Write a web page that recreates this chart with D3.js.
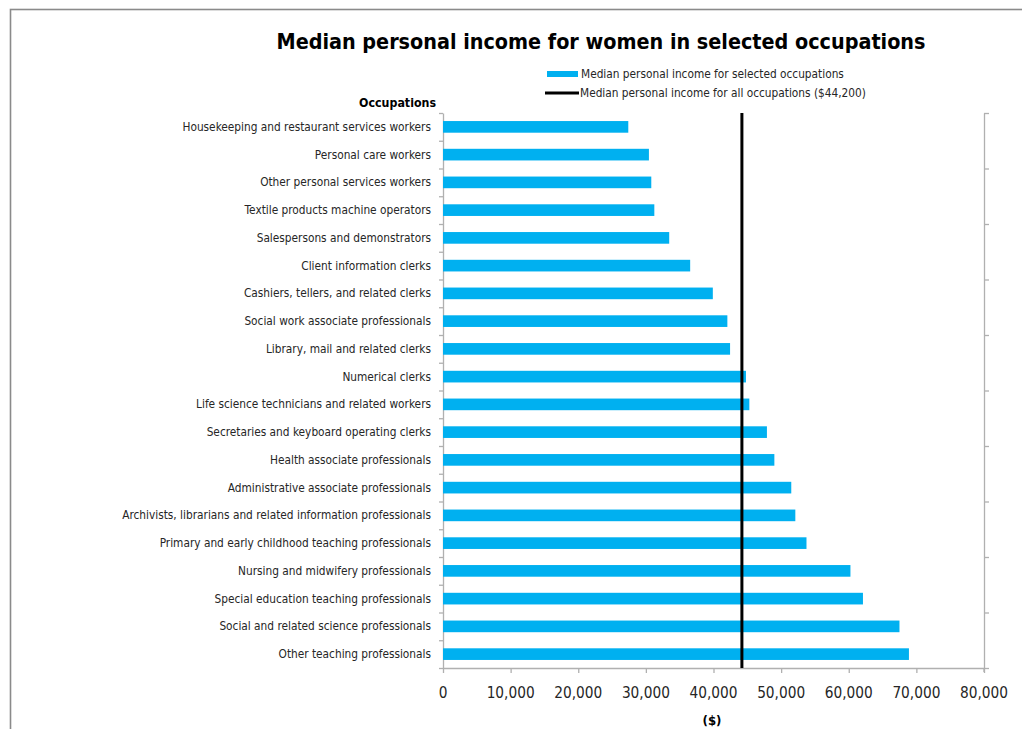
<!DOCTYPE html>
<html><head><meta charset="utf-8">
<script src="https://cdn.jsdelivr.net/npm/d3@7"></script>
<style>
html,body{margin:0;padding:0;background:#fff;}
svg{display:block;}
</style>
</head><body>
<svg id="chart" width="1022" height="729"></svg>
<script>
const categories = [
  "Housekeeping and restaurant services workers",
  "Personal care workers",
  "Other personal services workers",
  "Textile products machine operators ",
  "Salespersons and demonstrators",
  "Client information clerks",
  "Cashiers, tellers, and related clerks ",
  "Social work associate professionals",
  "Library, mail and related clerks",
  "Numerical clerks",
  "Life science technicians and related workers ",
  "Secretaries and keyboard operating clerks",
  "Health associate professionals",
  "Administrative associate professionals ",
  "Archivists, librarians and related information professionals",
  "Primary and early childhood teaching professionals",
  "Nursing and midwifery professionals",
  "Special education teaching professionals",
  "Social and related science professionals",
  "Other teaching professionals"
];
const incomes = [27400, 30450, 30800, 31250, 33450, 36550, 39900, 42050, 42450, 44800,
                 45300, 47900, 49000, 51500, 52100, 53750, 60250, 62100, 67500, 68900];
const allOccupationsMedian = 44200;
const xTicks = [0, 10000, 20000, 30000, 40000, 50000, 60000, 70000, 80000];
const titleText = "Median personal income for women in selected occupations";
const legendLabels = ["Median personal income for selected occupations",
                      "Median personal income for all occupations ($44,200)"];
const yAxisTitle = "Occupations";
const xAxisTitle = "($)";

const svg = d3.select("#chart");
const FONT = "'Liberation Sans Narrow','DejaVu Sans Condensed','Liberation Sans',sans-serif";
const BLUE = "#00B0F0";
const AXIS = "#B0B0B0";

const L = 443, R = 984, T = 113, B = 668;

// outer border
svg.append("rect").attr("x", 10.5).attr("y", 9.5).attr("width", 1030).attr("height", 740)
  .attr("fill", "none").attr("stroke", "#8a8a8a").attr("stroke-width", 1.6);

const x = d3.scaleLinear().domain([0, 80000]).range([L, R]);
const y = d3.scaleBand().domain(categories).range([T, B]).paddingInner(0.58).paddingOuter(0.29);
const yIdx = d3.scaleLinear().domain([0, categories.length]).range([T, B]);
const ySec = d3.scaleLinear().domain([0, 10]).range([B, T]);

function fit(sel, target) {
  const node = sel.node();
  const fs = parseFloat(sel.attr("font-size"));
  const w = node.getComputedTextLength();
  sel.attr("font-size", (fs * target / w).toFixed(2));
}

// left axis (category boundaries)
const gl = svg.append("g").attr("transform", `translate(${L},0)`)
  .call(d3.axisLeft(yIdx).ticks(20).tickValues(d3.range(0, 21)).tickFormat("").tickSize(4).tickSizeOuter(0));
gl.selectAll("path,line").attr("stroke", AXIS).attr("stroke-width", 1.3);

// right secondary axis
const gr = svg.append("g").attr("transform", `translate(${R},0)`)
  .call(d3.axisRight(ySec).tickValues(d3.range(0, 11)).tickFormat("").tickSize(5).tickSizeOuter(0));
gr.selectAll("path,line").attr("stroke", AXIS).attr("stroke-width", 1.3);
svg.append("line").attr("x1", R).attr("x2", R).attr("y1", B).attr("y2", B + 4)
  .attr("stroke", AXIS).attr("stroke-width", 1.3);

// bars
svg.append("g").selectAll("rect").data(categories).join("rect")
  .attr("x", x(0))
  .attr("y", d => y(d))
  .attr("width", (d, i) => x(incomes[i]) - x(0))
  .attr("height", y.bandwidth())
  .attr("fill", BLUE);

// x axis
const gx = svg.append("g").attr("transform", `translate(0,${B})`)
  .call(d3.axisBottom(x).tickValues(xTicks).tickFormat("").tickSize(5).tickSizeOuter(0));
gx.selectAll("path,line").attr("stroke", AXIS).attr("stroke-width", 1.3);

// median line
svg.append("line")
  .attr("x1", x(allOccupationsMedian)).attr("x2", x(allOccupationsMedian))
  .attr("y1", T).attr("y2", B)
  .attr("stroke", "#000").attr("stroke-width", 3);

// x tick labels
const fmt = d3.format(",");
const xl = svg.append("g").selectAll("text").data(xTicks).join("text")
  .attr("x", d => x(d)).attr("y", 698)
  .attr("text-anchor", "middle")
  .attr("font-family", FONT).attr("font-size", 14).attr("fill", "#262626")
  .text(d => fmt(d));
{
  const last = xl.filter(d => d === 80000);
  const w = last.node().getComputedTextLength();
  xl.attr("font-size", (14 * 48 / w).toFixed(2));
}

// category labels
const cl = svg.append("g").selectAll("text").data(categories).join("text")
  .attr("x", 431).attr("y", d => y(d) + y.bandwidth() / 2)
  .attr("dy", "0.35em")
  .attr("text-anchor", "end")
  .attr("font-family", FONT).attr("font-size", 13).attr("fill", "#262626")
  .text(d => d.trim());
{
  const ref = cl.filter((d, i) => i === 14);
  const w = ref.node().getComputedTextLength();
  cl.attr("font-size", (13 * 309 / w).toFixed(2));
}

// title
const tt = svg.append("text").attr("x", 601).attr("y", 49).attr("text-anchor", "middle")
  .attr("font-family", FONT).attr("font-weight", "bold").attr("font-size", 26).attr("fill", "#000")
  .text(titleText);
fit(tt, 649);

// legend
svg.append("rect").attr("x", 547).attr("y", 71).attr("width", 31).attr("height", 6).attr("fill", BLUE);
svg.append("line").attr("x1", 545).attr("x2", 579).attr("y1", 93).attr("y2", 93)
  .attr("stroke", "#000").attr("stroke-width", 3);
const lg1 = svg.append("text").attr("x", 581).attr("y", 74).attr("dy", "0.35em")
  .attr("font-family", FONT).attr("font-size", 12).attr("fill", "#262626").text(legendLabels[0]);
fit(lg1, 263);
const lg2 = svg.append("text").attr("x", 580).attr("y", 93).attr("dy", "0.35em")
  .attr("font-family", FONT).attr("font-size", 12).attr("fill", "#262626").text(legendLabels[1]);
fit(lg2, 286);

// axis titles
const yt = svg.append("text").attr("x", 436).attr("y", 103).attr("dy", "0.35em").attr("text-anchor", "end")
  .attr("font-family", FONT).attr("font-weight", "bold").attr("font-size", 13).attr("fill", "#000")
  .text(yAxisTitle);
fit(yt, 77);
const xt = svg.append("text").attr("x", 712).attr("y", 720).attr("dy", "0.35em").attr("text-anchor", "middle")
  .attr("font-family", FONT).attr("font-weight", "bold").attr("font-size", 14).attr("fill", "#000")
  .text(xAxisTitle);
fit(xt, 19);
</script>
</body></html>
